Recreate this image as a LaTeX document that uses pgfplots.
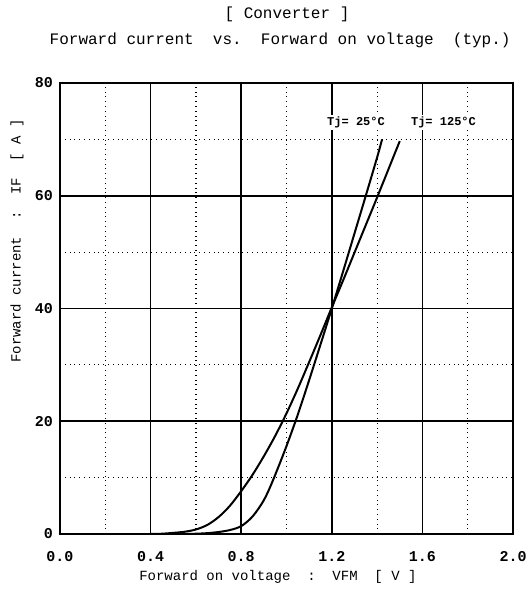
\documentclass[border=0pt]{standalone}
\usepackage{pgfplots}
\pgfplotsset{compat=1.18}
\usepackage{fontspec}
\setmainfont{Liberation Mono}
\begin{document}
\begin{tikzpicture}
\useasboundingbox (-30pt,-29pt) rectangle (233.5pt,267pt);
\begin{axis}[
  at={(0,0)}, anchor=south west,
  scale only axis, width=226.5pt, height=225.5pt,
  xmin=0, xmax=2, ymin=0, ymax=80,
  xtick={0,0.4,0.8,1.2,1.6,2.0},
  xticklabels={0.0,0.4,0.8,1.2,1.6,2.0},
  ytick={0,20,40,60,80},
  minor xtick={0.2,0.6,1.0,1.4,1.8},
  minor ytick={10,30,50,70},
  grid=both,
  major grid style={black, line width=0.8pt},
  minor grid style={black, dotted, line width=0.6pt},
  axis line style={black, line width=1pt},
  tick style={draw=none},
  /pgf/number format/assume math mode=true,
  tick label style={font=\fontsize{7.5}{9}\selectfont\bfseries},
  xticklabel style={yshift=-5pt},
  clip=false,
]
\addplot[black, line width=1pt, smooth] coordinates {
(0.40,0) (0.45,0.05) (0.50,0.2) (0.55,0.4) (0.60,0.8) (0.65,1.6) (0.70,3.0) (0.75,5.0) (0.80,7.6) (0.85,10.5) (0.90,13.8) (0.95,17.4) (1.00,21.4) (1.05,25.8) (1.10,30.5) (1.15,35.3) (1.20,40.2) (1.25,45.0) (1.30,49.9) (1.35,54.8) (1.40,59.7) (1.45,64.7) (1.50,69.7)
};
\addplot[black, line width=1pt, smooth] coordinates {
(0.55,0) (0.60,0.05) (0.65,0.15) (0.70,0.35) (0.75,0.7) (0.80,1.4) (0.85,3.1) (0.90,6.0) (0.94,9.5) (1.00,15.6) (1.05,21.2) (1.10,27.3) (1.15,33.6) (1.20,40) (1.25,46.6) (1.30,53.3) (1.35,60) (1.40,66.8) (1.422,70)
};
\node[font=\fontsize{6}{7}\selectfont\bfseries, fill=white, inner sep=1pt] at (axis cs:1.307,73) {Tj= 25°C};
\node[font=\fontsize{6}{7}\selectfont\bfseries, fill=white, inner sep=1pt] at (axis cs:1.693,73) {Tj= 125°C};
\node[font=\fontsize{8}{9}\selectfont] at (rel axis cs:0.501,1.153) {[ Converter ]};
\node[font=\fontsize{8}{9}\selectfont] at (rel axis cs:0.486,1.095) {Forward current~~vs.~~Forward on voltage~~(typ.)};
\node[font=\fontsize{7}{8}\selectfont] at (rel axis cs:0.481,-0.095) {Forward on voltage~~:~~VFM~~[ V ]};
\node[font=\fontsize{7}{8}\selectfont, rotate=90] at (rel axis cs:-0.095,0.65) {Forward current~~:~~IF~~[ A ]};
\end{axis}
\end{tikzpicture}
\end{document}
